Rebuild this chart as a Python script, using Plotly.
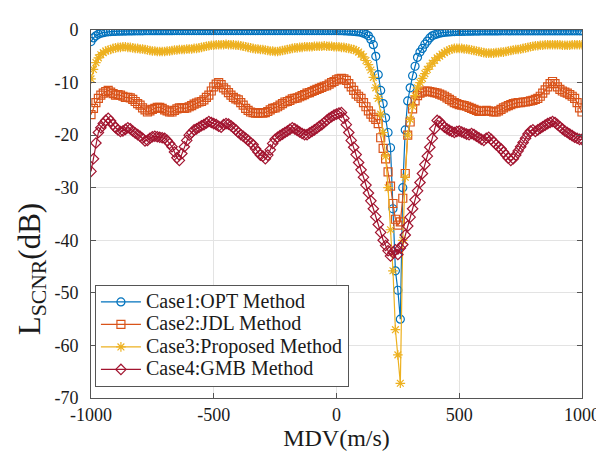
import plotly.graph_objects as go

mdv = list(range(-1000, 1001, 10))

opt_db = [
    -2.2, -1.5, -1.1, -0.8, -0.6, -0.5, -0.4, -0.35, -0.3, -0.28,
    -0.25, -0.24, -0.22, -0.2, -0.2, -0.18, -0.18, -0.17, -0.16, -0.15,
    -0.15, -0.15, -0.14, -0.14, -0.14, -0.13, -0.13, -0.13, -0.13, -0.12,
    -0.12, -0.12, -0.12, -0.12, -0.11, -0.11, -0.11, -0.11, -0.11, -0.11,
    -0.1, -0.1, -0.1, -0.1, -0.1, -0.1, -0.1, -0.1, -0.1, -0.1,
    -0.1, -0.1, -0.1, -0.1, -0.1, -0.1, -0.1, -0.1, -0.1, -0.1,
    -0.1, -0.1, -0.1, -0.1, -0.1, -0.1, -0.1, -0.1, -0.1, -0.1,
    -0.1, -0.1, -0.1, -0.1, -0.1, -0.1, -0.1, -0.1, -0.1, -0.1,
    -0.1, -0.1, -0.1, -0.1, -0.1, -0.1, -0.1, -0.1, -0.1, -0.1,
    -0.1, -0.1, -0.1, -0.1, -0.1, -0.1, -0.1, -0.1, -0.1, -0.1,
    -0.1, -0.12, -0.14, -0.16, -0.18, -0.2, -0.24, -0.28, -0.32, -0.36,
    -0.45, -0.6, -0.8, -1.1, -1.8, -2.8, -5.0, -8.5, -11.5, -14.0,
    -16.7, -19.5, -22.4, -34.0, -45.8, -49.5, -55.0, -30.0, -19.0, -13.5,
    -11.0, -8.7, -6.9, -5.2, -4.2, -3.5, -2.7, -2.1, -1.5, -1.1,
    -0.9, -0.75, -0.6, -0.5, -0.45, -0.4, -0.36, -0.33, -0.3, -0.28,
    -0.27, -0.26, -0.25, -0.24, -0.23, -0.22, -0.21, -0.2, -0.2, -0.19,
    -0.19, -0.18, -0.18, -0.18, -0.17, -0.17, -0.17, -0.16, -0.16, -0.16,
    -0.16, -0.16, -0.15, -0.15, -0.15, -0.15, -0.15, -0.15, -0.15, -0.15,
    -0.15, -0.15, -0.15, -0.15, -0.15, -0.15, -0.15, -0.15, -0.15, -0.15,
    -0.15, -0.15, -0.15, -0.15, -0.15, -0.15, -0.15, -0.15, -0.15, -0.15,
    -0.15,
]

jdl_db = [
    -16.1, -14.9, -13.8, -13.0, -12.4, -12.0, -11.7, -11.5, -11.8, -12.1,
    -12.4, -12.3, -12.4, -12.6, -12.8, -12.8, -12.9, -13.2, -13.6, -14.0,
    -14.3, -14.8, -15.2, -15.6, -15.4, -15.1, -14.9, -14.7, -14.7, -14.9,
    -15.2, -15.4, -15.6, -15.6, -15.3, -15.0, -14.8, -14.8, -14.9, -14.8,
    -14.6, -14.4, -14.1, -13.9, -13.7, -13.6, -13.3, -12.8, -12.4, -11.6,
    -10.8, -10.3, -10.0, -10.4, -11.0, -11.4, -11.9, -12.4, -12.8, -13.1,
    -13.3, -13.8, -14.3, -14.9, -15.3, -15.6, -15.7, -15.8, -15.8, -15.7,
    -15.8, -15.7, -15.5, -15.2, -14.9, -14.8, -14.6, -14.3, -14.0, -13.7,
    -13.6, -13.4, -13.1, -13.0, -12.9, -12.7, -12.5, -12.3, -12.0, -11.9,
    -11.7, -11.5, -11.3, -11.1, -10.9, -10.7, -10.6, -10.3, -10.0, -9.8,
    -9.5, -9.3, -9.2, -9.3, -9.6, -10.2, -10.8, -11.5, -12.2, -12.6,
    -13.0, -13.8, -14.6, -15.4, -16.0, -16.6, -17.0, -17.8, -20.5, -22.5,
    -24.5, -27.0, -29.7, -33.0, -36.0, -37.1, -36.5, -32.0, -27.3, -20.0,
    -17.5, -15.0, -13.5, -12.5, -12.0, -11.8, -11.6, -11.6, -11.7, -11.8,
    -11.9, -12.0, -12.2, -12.4, -12.6, -12.9, -13.2, -13.5, -13.8, -14.0,
    -14.2, -14.3, -14.4, -14.5, -14.7, -14.9, -15.1, -15.3, -15.5, -15.5,
    -15.4, -15.3, -15.4, -15.5, -15.6, -15.6, -15.4, -15.1, -14.8, -14.6,
    -14.4, -14.2, -14.0, -13.9, -13.8, -13.8, -13.7, -13.7, -13.6, -13.5,
    -13.4, -13.2, -13.0, -12.6, -12.0, -11.4, -10.8, -10.2, -9.8, -10.2,
    -10.8, -11.3, -11.6, -11.8, -12.0, -12.3, -12.6, -13.0, -13.8, -14.8,
    -15.6,
]

proposed_db = [
    -9.3, -7.5, -6.2, -5.3, -4.7, -4.3, -4.0, -3.8, -3.7, -3.5,
    -3.4, -3.3, -3.3, -3.2, -3.2, -3.3, -3.3, -3.4, -3.5, -3.5,
    -3.6, -3.6, -3.7, -3.8, -3.9, -4.0, -4.0, -4.1, -4.1, -4.1,
    -4.1, -4.0, -4.0, -3.9, -3.8, -3.8, -3.7, -3.7, -3.7, -3.6,
    -3.6, -3.6, -3.5, -3.5, -3.4, -3.3, -3.2, -3.1, -3.0, -2.9,
    -2.9, -2.8, -2.8, -2.8, -2.8, -2.7, -2.8, -2.8, -2.8, -2.9,
    -2.9, -3.0, -3.1, -3.2, -3.3, -3.4, -3.5, -3.6, -3.6, -3.7,
    -3.7, -3.8, -3.9, -4.0, -4.0, -4.1, -4.1, -4.0, -3.9, -3.8,
    -3.7, -3.6, -3.5, -3.4, -3.4, -3.3, -3.3, -3.2, -3.2, -3.2,
    -3.2, -3.1, -3.1, -3.1, -3.1, -3.0, -3.1, -3.1, -3.1, -3.2,
    -3.2, -3.2, -3.3, -3.3, -3.4, -3.5, -3.6, -3.7, -3.9, -4.2,
    -4.6, -5.1, -5.8, -6.6, -7.6, -9.0, -11.0, -13.0, -16.0, -19.5,
    -24.0, -30.0, -38.0, -45.8, -57.0, -61.8, -67.2, -40.0, -28.0, -20.0,
    -17.0, -14.5, -12.5, -11.0, -10.0, -9.2, -8.3, -7.5, -6.9, -6.3,
    -5.8, -5.3, -5.0, -4.6, -4.3, -4.0, -3.8, -3.6, -3.5, -3.5,
    -3.5, -3.5, -3.6, -3.6, -3.7, -3.8, -3.9, -4.0, -4.1, -4.2,
    -4.3, -4.4, -4.4, -4.4, -4.4, -4.3, -4.3, -4.2, -4.2, -4.1,
    -4.0, -3.9, -3.8, -3.7, -3.7, -3.6, -3.5, -3.4, -3.3, -3.2,
    -3.1, -3.0, -3.0, -2.9, -2.9, -2.8, -2.8, -2.8, -2.8, -2.8,
    -2.8, -2.8, -2.9, -2.9, -2.9, -2.9, -2.8, -2.8, -2.8, -2.8,
    -2.8,
]

gmb_db = [
    -26.9, -24.5, -21.5, -19.5, -18.6, -17.8, -17.2, -16.8, -17.3, -18.0,
    -18.6, -19.0, -19.3, -19.2, -18.9, -18.6, -18.8, -19.2, -19.6, -19.9,
    -20.2, -20.6, -21.1, -21.0, -20.6, -20.3, -20.2, -20.3, -20.4, -20.5,
    -20.6, -21.0, -21.6, -22.2, -23.2, -24.3, -24.8, -23.5, -22.2, -21.0,
    -20.0, -19.5, -19.0, -18.8, -18.5, -18.2, -18.0, -17.7, -17.4, -17.6,
    -17.8, -18.0, -18.3, -18.5, -18.0, -17.8, -17.9, -18.2, -18.6, -19.0,
    -19.5, -19.9, -20.2, -20.6, -21.0, -21.4, -21.8, -22.6, -23.2, -23.8,
    -24.0, -24.5, -23.8, -22.8, -21.6, -20.8, -20.4, -20.1, -19.8, -19.5,
    -19.2, -18.9, -18.6, -18.8, -19.1, -19.4, -19.7, -19.9, -19.9, -19.6,
    -19.3, -19.0, -18.7, -18.3, -18.0, -17.6, -17.2, -16.8, -16.5, -16.2,
    -16.0, -15.8, -15.7, -16.8, -18.0, -19.5, -21.0, -22.3, -23.7, -25.2,
    -26.6, -28.0, -29.5, -31.0, -32.5, -34.0, -35.5, -37.0, -38.5, -40.0,
    -41.0, -42.0, -43.0, -42.3, -41.8, -42.7, -41.5, -40.8, -39.0, -37.3,
    -35.6, -34.0, -32.3, -30.6, -29.0, -27.3, -25.6, -24.0, -22.3, -20.6,
    -18.8, -17.2, -17.4, -18.0, -18.5, -18.8, -19.1, -19.3, -19.5, -19.3,
    -19.2, -19.4, -19.6, -19.8, -19.9, -19.7, -19.9, -20.2, -20.5, -20.8,
    -21.0, -20.6, -20.4, -20.8, -21.3, -21.8, -22.2, -22.6, -23.2, -23.8,
    -24.4, -24.8, -24.5, -23.8, -23.0, -22.2, -21.4, -20.6, -19.8, -19.2,
    -19.0, -19.3, -19.0, -18.7, -18.4, -18.1, -17.8, -17.6, -17.4, -17.6,
    -18.0, -18.4, -18.8, -19.2, -19.5, -19.8, -20.1, -20.4, -20.6, -20.8,
    -20.8,
]

series_names = ["Case1:OPT Method", "Case2:JDL Method", "Case3:Proposed Method", "Case4:GMB Method"]
series_values = [opt_db, jdl_db, proposed_db, gmb_db]
colors = ["#0072BD", "#D95319", "#EDB120", "#A2142F"]
symbols = ["circle-open", "square-open", "asterisk-open", "diamond-open"]

x_ticks = [-1000, -500, 0, 500, 1000]
x_tick_text = ["-1000", "-500", "0", "500", "1000"]
y_ticks = [0, -10, -20, -30, -40, -50, -60, -70]
y_tick_text = ["0", "-10", "-20", "-30", "-40", "-50", "-60", "-70"]

fig = go.Figure()
for name, vals, col, sym in zip(series_names, series_values, colors, symbols):
    fig.add_trace(go.Scatter(
        x=mdv, y=vals,
        name='<span style="font-size:20px">' + name + '</span>',
        mode="lines+markers",
        line=dict(color=col, width=1.2),
        marker=dict(symbol=sym, size=8, color=col, line=dict(color=col, width=1.2)),
    ))

font_family = "Liberation Serif, Times New Roman, serif"
axis_common = dict(
    showline=True, linecolor="#555555", linewidth=1, mirror="ticks",
    ticks="inside", ticklen=5, tickcolor="#555555",
    showgrid=True, gridcolor="#e3e3e3", gridwidth=1, zeroline=False,
    tickfont=dict(family=font_family, size=18, color="#1a1a1a"),
)

fig.update_layout(
    width=604, height=454,
    margin=dict(l=83, r=20, t=13, b=64),
    paper_bgcolor="white", plot_bgcolor="white",
    font=dict(family=font_family, color="#1a1a1a"),
    xaxis=dict(range=[-1000, 1000], tickvals=x_ticks, ticktext=x_tick_text,
               title=dict(text="MDV(m/s)", font=dict(family=font_family, size=24), standoff=2),
               **axis_common),
    yaxis=dict(range=[-70, 0], tickvals=y_ticks, ticktext=y_tick_text,
               ticklabelstandoff=8,
               **axis_common),
    legend=dict(x=0.008, y=0.308, xanchor="left", yanchor="top",
                bgcolor="white", bordercolor="#555555", borderwidth=1,
                font=dict(family=font_family, size=15, color="#1a1a1a"),
                tracegroupgap=0, itemwidth=40),
    showlegend=True,
    annotations=[dict(
        text="L<sub>SCNR</sub>(dB)", textangle=-90,
        xref="paper", yref="paper", x=-0.12, y=0.35,
        xanchor="center", yanchor="middle", showarrow=False,
        font=dict(family=font_family, size=31, color="#1a1a1a"),
    )],
)

fig.write_html("out.html")
